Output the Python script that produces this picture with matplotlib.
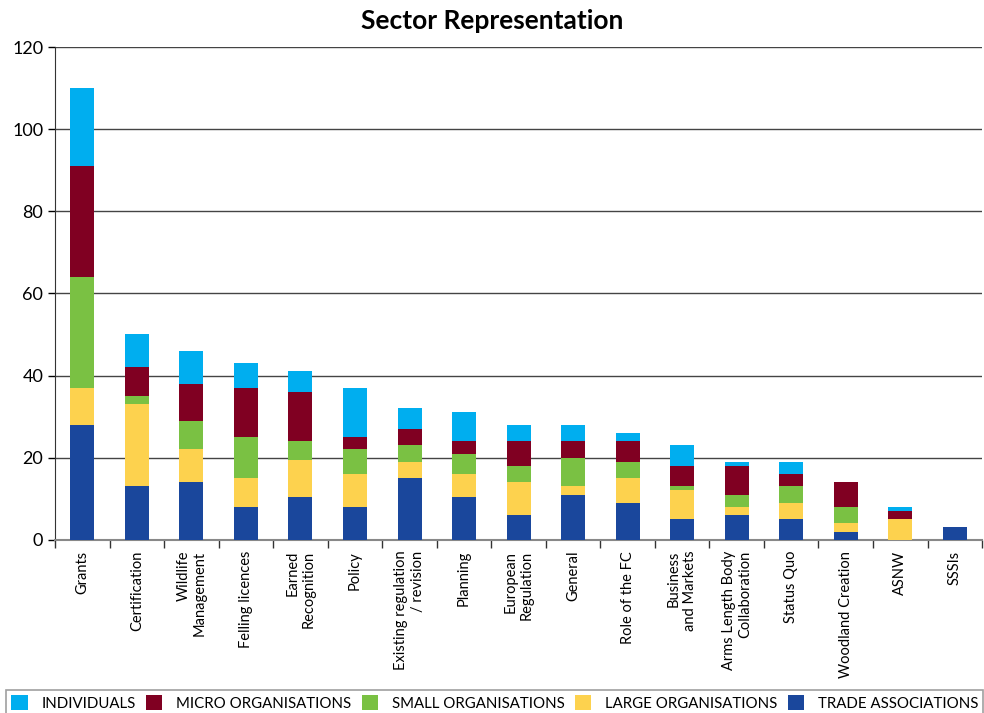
import numpy as np
import matplotlib.pyplot as plt

plt.rcParams['font.family'] = ['Lato', 'DejaVu Sans']

categories = ['Grants', 'Certification', 'Wildlife\nManagement', 'Felling licences',
              'Earned\nRecognition', 'Policy', 'Existing regulation\n/ revision', 'Planning',
              'European\nRegulation', 'General', 'Role of the FC', 'Business\nand Markets',
              'Arms Length Body\nCollaboration', 'Status Quo', 'Woodland Creation', 'ASNW', 'SSSIs']

trade = [28, 13, 14, 8, 10.5, 8, 15, 10.5, 6, 11, 9, 5, 6, 5, 2, 0, 3]
large = [9, 20, 8, 7, 9, 8, 4, 5.5, 8, 2, 6, 7, 2, 4, 2, 5, 0]
small = [27, 2, 7, 10, 4.5, 6, 4, 5, 4, 7, 4, 1, 3, 4, 4, 0, 0]
micro = [27, 7, 9, 12, 12, 3, 4, 3, 6, 4, 5, 5, 7, 3, 6, 2, 0]
individuals = [19, 8, 8, 6, 5, 12, 5, 7, 4, 4, 2, 5, 1, 3, 0, 1, 0]

series = [
    ('TRADE ASSOCIATIONS', trade, '#1a479c'),
    ('LARGE ORGANISATIONS', large, '#fdd24e'),
    ('SMALL ORGANISATIONS', small, '#7ac143'),
    ('MICRO ORGANISATIONS', micro, '#800022'),
    ('INDIVIDUALS', individuals, '#00aeef'),
]

fig = plt.figure(figsize=(9.84, 7.13), dpi=100)
ax = fig.add_axes([0.056, 0.243, 0.942, 0.691])

x = np.arange(len(categories))
bottom = np.zeros(len(categories))
handles = {}
for name, vals, col in series:
    vals = np.array(vals, dtype=float)
    h = ax.bar(x, vals, width=0.44, bottom=bottom, color=col, zorder=3)
    handles[name] = h
    bottom += vals

ax.set_xlim(-0.5, len(categories) - 0.5)
ax.set_ylim(0, 120)
ax.set_yticks(np.arange(0, 121, 20))
ax.tick_params(axis='y', labelsize=13, length=5, width=1, direction='out')
ax.yaxis.grid(True, color='#444444', linewidth=1, zorder=0)
ax.set_axisbelow(True)

ax.set_xticks(x)
ax.set_xticklabels(categories, rotation=90, fontsize=10.5, ha='center', va='top',
                   multialignment='right')
ax.tick_params(axis='x', length=0, pad=8)
ax.set_xticks(np.arange(-0.5, len(categories), 1), minor=True)
ax.tick_params(axis='x', which='minor', length=6, width=1, direction='out', color='#333333')

for s in ['top', 'right']:
    ax.spines[s].set_visible(False)
ax.spines['left'].set_color('#333333')
ax.spines['bottom'].set_color('#888888')
ax.spines['bottom'].set_linewidth(1.5)

fig.suptitle('Sector Representation', fontsize=19, fontweight='bold', y=0.988)

order = ['INDIVIDUALS', 'MICRO ORGANISATIONS', 'SMALL ORGANISATIONS',
         'LARGE ORGANISATIONS', 'TRADE ASSOCIATIONS']
leg = fig.legend([handles[n] for n in order], order, loc='lower left',
                 bbox_to_anchor=(0.006, -0.004), ncol=5, fontsize=10.8,
                 frameon=True, fancybox=False, edgecolor='#888888',
                 handlelength=1.1, handleheight=1.1, columnspacing=0.7,
                 handletextpad=0.9, borderpad=0.35, borderaxespad=0.0)
leg.get_frame().set_linewidth(1.2)

fig.savefig('out.png', dpi=100)
